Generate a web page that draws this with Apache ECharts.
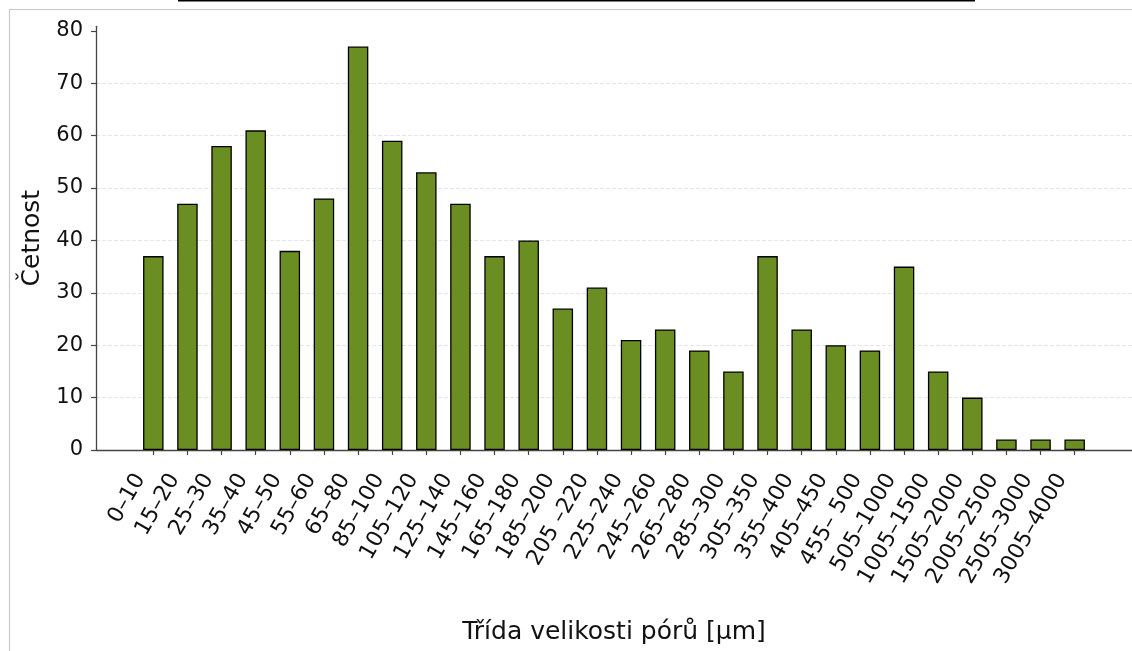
<!DOCTYPE html>
<html>
<head>
<meta charset="utf-8">
<script src="https://cdn.jsdelivr.net/npm/echarts@6/dist/echarts.min.js"></script>
<style>
  html, body { margin: 0; padding: 0; background: #fff; }
  #chart { width: 1132px; height: 651px; }
</style>
</head>
<body>
<div id="chart"></div>
<script>
// Pore size classes (µm) and their frequencies
const categories = [
  '0–10', '15–20', '25–30', '35–40', '45–50', '55–60', '65–80', '85–100',
  '105–120', '125–140', '145–160', '165–180', '185–200', '205 –220', '225–240',
  '245–260', '265–280', '285–300', '305–350', '355–400', '405–450', '455– 500',
  '505–1000', '1005–1500', '1505–2000', '2005–2500', '2505–3000', '3005–4000'
];
const counts = [
  37, 47, 58, 61, 38, 48, 77, 59, 53, 47, 37, 40, 27, 31, 21,
  23, 19, 15, 37, 23, 20, 19, 35, 15, 10, 2, 2, 2
];
const yTicks = [0, 10, 20, 30, 40, 50, 60, 70, 80];
const xTitle = 'Třída velikosti pórů [µm]';
const yTitle = 'Četnost';

const positions = categories.map((_, i) => i);
const barData = counts.map((v, i) => [i, v]);

const FONT = 'DejaVu Sans';
const chart = echarts.init(document.getElementById('chart'), null, { renderer: 'canvas' });

chart.setOption({
  backgroundColor: '#ffffff',
  animation: false,
  grid: {
    left: 96, right: 0, top: 26.3, bottom: 201,
    containLabel: false,
    outerBoundsMode: 'none'
  },
  xAxis: {
    type: 'value',
    min: -1.68,
    max: 28.68,
    name: xTitle,
    nameLocation: 'middle',
    nameGap: 170,
    nameTextStyle: { fontFamily: FONT, fontSize: 25, color: '#111' },
    axisLine: { show: true, onZero: false, lineStyle: { color: '#444', width: 1.3 } },
    axisTick: { show: true, length: 5, customValues: positions, lineStyle: { color: '#444', width: 1.2 } },
    axisLabel: {
      show: true,
      customValues: positions,
      rotate: 60,
      margin: 3,
      align: 'right',
      verticalAlign: 'middle',
      padding: [0, 26, 0, 0],
      fontFamily: FONT,
      fontSize: 22,
      color: '#111',
      formatter: v => categories[Math.round(v)]
    },
    splitLine: { show: false }
  },
  yAxis: {
    type: 'value',
    min: 0,
    max: 80.85,
    interval: 10,
    name: yTitle,
    nameLocation: 'middle',
    nameGap: 50,
    nameTextStyle: { fontFamily: FONT, fontSize: 25, color: '#111' },
    axisLine: { show: true, onZero: false, lineStyle: { color: '#444', width: 1.3 } },
    axisTick: { show: true, length: 5, customValues: yTicks, lineStyle: { color: '#444', width: 1.2 } },
    axisLabel: {
      show: true,
      customValues: yTicks,
      margin: 13,
      fontFamily: FONT,
      fontSize: 21,
      color: '#111'
    },
    splitLine: {
      show: true,
      showMaxLine: false,
      lineStyle: { color: '#dedede', width: 0.8, type: [4, 2] }
    }
  },
  series: [{
    type: 'bar',
    data: barData,
    barWidth: 20.5,
    itemStyle: { color: '#6b8e23', borderColor: '#000', borderWidth: 1.3 }
  }],
  graphic: [
    {
      type: 'rect',
      shape: { x: 9.5, y: 9.5, width: 1200, height: 800 },
      style: { fill: 'none', stroke: '#c8c8c8', lineWidth: 1.2 },
      silent: true, z: -10
    },
    {
      type: 'rect',
      shape: { x: 178, y: 0, width: 797, height: 1.5 },
      style: { fill: '#000' },
      silent: true
    }
  ]
});
</script>
</body>
</html>
